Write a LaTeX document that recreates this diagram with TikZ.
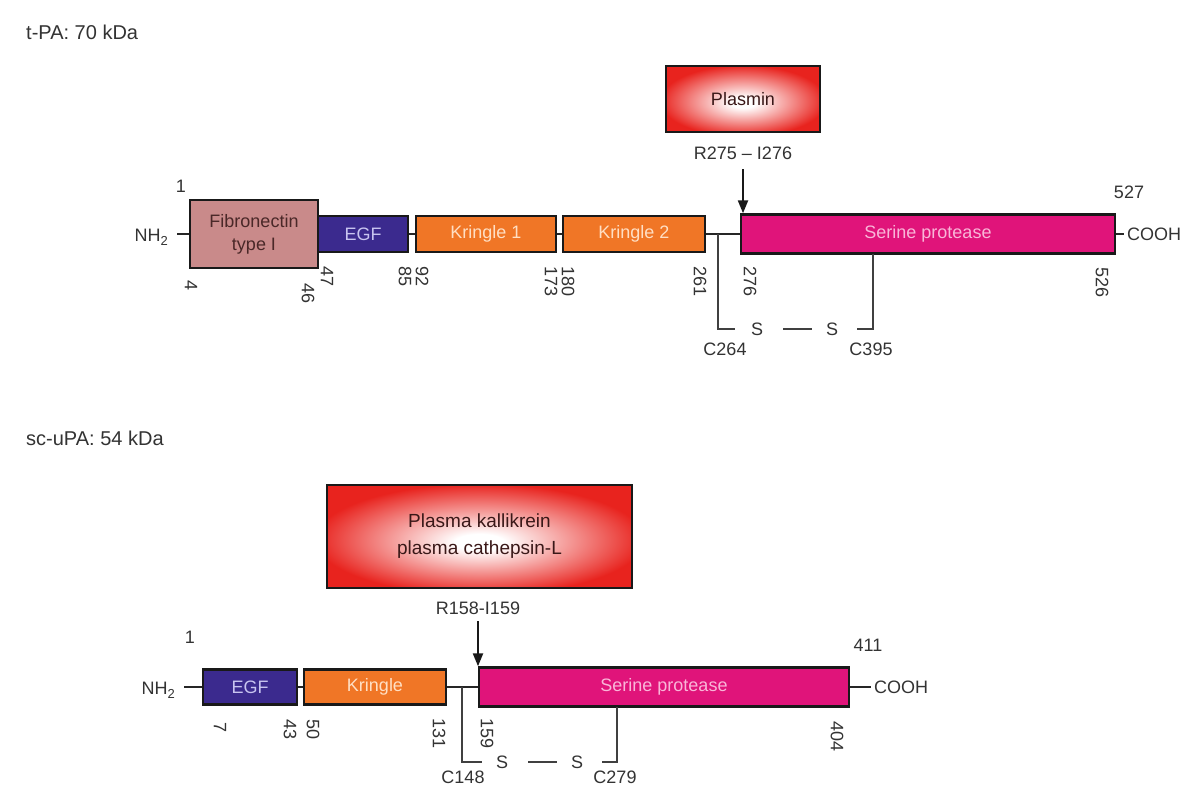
\documentclass[tikz,border=0pt]{standalone}
\usepackage{fontspec}
\setmainfont{Liberation Sans}
\usetikzlibrary{arrows.meta}
\definecolor{fncol}{HTML}{C98A8A}
\definecolor{fntext}{HTML}{4A2828}
\definecolor{egfcol}{HTML}{3B2A8E}
\definecolor{egftext}{HTML}{C8C4F0}
\definecolor{krcol}{HTML}{F07626}
\definecolor{krtext}{HTML}{FFDFC4}
\definecolor{spcol}{HTML}{E0147A}
\definecolor{sptext}{HTML}{F9B6D8}
\definecolor{enzred}{HTML}{E8231E}
\definecolor{enztext}{HTML}{3A1818}
\pgfdeclareradialshading{enzshade}{\pgfpoint{0bp}{-3bp}}{color(0bp)=(white); color(4bp)=(white); color(27bp)=(enzred); color(50bp)=(enzred)}
\begin{document}
\begin{tikzpicture}[x=1pt,y=-1pt,
  every node/.style={font=\fontsize{18}{22}\selectfont, inner sep=0pt, text=black!80},
  title/.style={font=\fontsize{20}{24}\selectfont, anchor=west},
  dom/.style={draw=black!90, line width=2.4pt, rectangle, align=center},
  enzyme/.style={dom, shading=enzshade, text=enztext},
  rot/.style={rotate=-90, anchor=west},
  bb/.style={line width=2pt, draw=black!85},
  bond/.style={line width=1.5pt, draw=black!75},
  cutarrow/.style={line width=2.2pt, draw=black!90, -{Triangle[length=13pt,width=10pt]}}
]
\fill[white] (0,0) rectangle (1191,787);
\useasboundingbox (0,0) rectangle (1191,787);

% ---------------- t-PA ----------------
\node[title] (t1) at (26,32) {t-PA: 70 kDa};
\node (one1) at (181,186) {1};
\node[anchor=base east, inner xsep=9pt] (nh2a) at (177,241) {NH\raisebox{-0.45ex}{\fontsize{13}{15}\selectfont 2}};
\node[dom, fill=fncol, text=fntext, minimum width=128pt, minimum height=68pt] (fn) at (254,234) {Fibronectin\\[1pt]type I};
\node[dom, fill=egfcol, text=egftext, minimum width=90pt, minimum height=36pt] (egf1) at (363,234) {EGF};
\node[dom, fill=krcol, text=krtext, minimum width=140pt, minimum height=36pt] (k1) at (486,234) {Kringle 1};
\node[dom, fill=krcol, text=krtext, minimum width=142pt, minimum height=36pt] (k2) at (634,234) {Kringle 2};
\node[dom, fill=spcol, text=sptext, minimum width=374pt, minimum height=39pt] (sp1) at (928,234) {Serine protease};
\node[anchor=west, inner xsep=3pt] (cooh1) at (1124,234) {COOH};
\node (n527) at (1129,192) {527};
\node[enzyme, minimum width=154pt, minimum height=66pt] (plasmin) at (743,99) {Plasmin};
\node (site1) at (743,153) {R275 -- I276};
\coordinate (cut1) at (743,169);

\draw[bb] (nh2a.east |- fn.west) -- (fn.west);
\draw[bb] (egf1.east) -- (k1.west);
\draw[bb] (k1.east) -- (k2.west);
\draw[bb] (k2.east) -- (sp1.west);
\draw[bb] (sp1.east) -- (cooh1.west);
\draw[cutarrow] (cut1) -- (cut1 |- sp1.north);

\node[rot] (p4) at (191,280) {4};
\node[rot] (p46) at (308,283) {46};
\node[rot] (p47) at (327,266) {47};
\node[rot] (p85) at (405,266) {85};
\node[rot] (p92) at (422,266) {92};
\node[rot] (p173) at (551,266) {173};
\node[rot] (p180) at (568,266) {180};
\node[rot] (p261) at (700,266) {261};
\node[rot] (p276) at (750,266) {276};
\node[rot] (p526) at (1102,267) {526};

\coordinate (ssa1) at (718,234);
\coordinate (ssb1) at (873,254);
\node (s1) at (757,329) {S};
\node (s2) at (832,329) {S};
\node (c264) at (725,349) {C264};
\node (c395) at (871,349) {C395};
\draw[bond] (ssa1) |- ([xshift=-22pt]s1.center);
\draw[bond] ([xshift=26pt]s1.center) -- ([xshift=-20pt]s2.center);
\draw[bond] ([xshift=25pt]s2.center) -| (ssb1);

% ---------------- sc-uPA ----------------
\node[title] (t2) at (26,438) {sc-uPA: 54 kDa};
\node (one2) at (190,637) {1};
\node[anchor=base east, inner xsep=9pt] (nh2b) at (184,694) {NH\raisebox{-0.45ex}{\fontsize{13}{15}\selectfont 2}};
\node[dom, fill=egfcol, text=egftext, minimum width=94pt, minimum height=35pt] (egf2) at (250,687) {EGF};
\node[dom, fill=krcol, text=krtext, minimum width=142pt, minimum height=35pt] (kr) at (375,687) {Kringle};
\node[dom, fill=spcol, text=sptext, minimum width=370pt, minimum height=39pt] (sp2) at (664,687) {Serine protease};
\node[anchor=west, inner xsep=3pt] (cooh2) at (871,687) {COOH};
\node (n411) at (868,645) {411};
\node[enzyme, minimum width=305pt, minimum height=103pt, font=\fontsize{19}{27}\selectfont] (kall) at (479.5,536.5) {Plasma kallikrein\\plasma cathepsin-L};
\node (site2) at (478,608) {R158-I159};
\coordinate (cut2) at (478,621);

\draw[bb] (nh2b.east |- egf2.west) -- (egf2.west);
\draw[bb] (egf2.east) -- (kr.west);
\draw[bb] (kr.east) -- (sp2.west);
\draw[bb] (sp2.east) -- (cooh2.west);
\draw[cutarrow] (cut2) -- (cut2 |- sp2.north);

\node[rot] (q7) at (220,722) {7};
\node[rot] (q43) at (290,719) {43};
\node[rot] (q50) at (313,719) {50};
\node[rot] (q131) at (439,718) {131};
\node[rot] (q159) at (487,718) {159};
\node[rot] (q404) at (837,721) {404};

\coordinate (ssa2) at (462,687);
\coordinate (ssb2) at (617,707);
\node (s3) at (502,762) {S};
\node (s4) at (577,762) {S};
\node (c148) at (463,777) {C148};
\node (c279) at (615,777) {C279};
\draw[bond] (ssa2) |- ([xshift=-20pt]s3.center);
\draw[bond] ([xshift=26pt]s3.center) -- ([xshift=-20pt]s4.center);
\draw[bond] ([xshift=25pt]s4.center) -| (ssb2);
\end{tikzpicture}
\end{document}
